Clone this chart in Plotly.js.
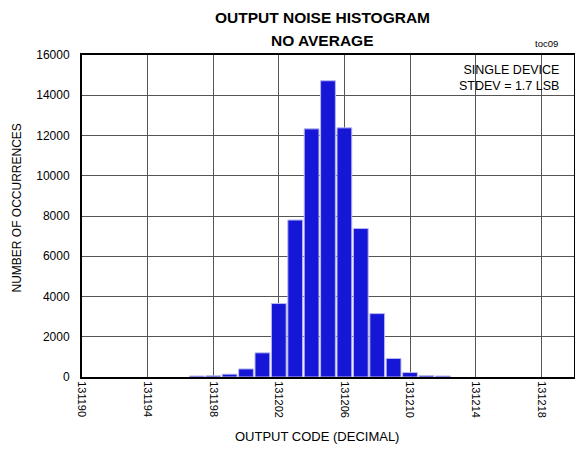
<!DOCTYPE html>
<html>
<head>
<meta charset="utf-8">
<script src="https://cdn.plot.ly/plotly-3.0.1.min.js"></script>
<style>html,body{margin:0;padding:0;background:#fff;}#chart{width:575px;height:449px;}</style>
</head>
<body>
<div id="chart"></div>
<script>
const codes = [131197,131198,131199,131200,131201,131202,131203,131204,131205,131206,131207,131208,131209,131210,131211,131212];
const counts = [50,60,140,400,1200,3650,7800,12330,14720,12380,7380,3150,920,220,70,50];
const xTickVals = [131190,131194,131198,131202,131206,131210,131214,131218];
const yTickVals = [0,2000,4000,6000,8000,10000,12000,14000,16000];

const FONT = '"Liberation Sans", Arial, sans-serif';

const L = 82, R = 1, T = 55, B = 72, W = 575, H = 449;
const pw = W - L - R, ph = H - T - B;
const px = x => (x - L) / pw;
const py = y => 1 - (y - T) / ph;

const trace = {
  type: 'bar',
  x: codes,
  y: counts,
  width: 0.9,
  marker: {color: '#1616d6', line: {color: '#b8b8f0', width: 1}},
  hoverinfo: 'x+y'
};

const layout = {
  width: W, height: H,
  margin: {l: L, r: R, t: T, b: B},
  paper_bgcolor: '#fff', plot_bgcolor: '#fff',
  showlegend: false,
  xaxis: {
    range: [131190, 131220],
    tickvals: xTickVals,
    ticktext: xTickVals.map(String),
    tickangle: 90,
    tickfont: {family: FONT, size: 11, color: '#000'},
    showgrid: true, gridcolor: '#555', gridwidth: 1,
    zeroline: false,
    showline: true, linecolor: '#000', linewidth: 2, mirror: true,
    ticks: '', fixedrange: true
  },
  yaxis: {
    range: [0, 16000],
    tickvals: yTickVals,
    ticktext: yTickVals.map(String),
    tickfont: {family: FONT, size: 12, color: '#000'},
    ticklabelstandoff: 8,
    showgrid: true, gridcolor: '#555', gridwidth: 1,
    zeroline: false,
    showline: true, linecolor: '#000', linewidth: 2, mirror: true,
    ticks: '', fixedrange: true
  },
  annotations: [
    {text: '<b>OUTPUT NOISE HISTOGRAM</b>', xref: 'paper', yref: 'paper', x: px(322), y: py(17),
     xanchor: 'center', yanchor: 'middle', showarrow: false, font: {family: FONT, size: 15.5, color: '#000'}},
    {text: '<b>NO AVERAGE</b>', xref: 'paper', yref: 'paper', x: px(322), y: py(40),
     xanchor: 'center', yanchor: 'middle', showarrow: false, font: {family: FONT, size: 15.5, color: '#000'}},
    {text: 'toc09', xref: 'paper', yref: 'paper', x: px(560), y: py(43.5),
     xanchor: 'right', yanchor: 'middle', showarrow: false, font: {family: FONT, size: 9.5, color: '#000'}},
    {text: 'SINGLE DEVICE<br>STDEV = 1.7 LSB', xref: 'paper', yref: 'paper', x: px(561), y: py(77.5),
     xanchor: 'right', yanchor: 'middle', align: 'right', showarrow: false, font: {family: FONT, size: 12.5, color: '#000'}},
    {text: 'OUTPUT CODE (DECIMAL)', xref: 'paper', yref: 'paper', x: px(317), y: py(436),
     xanchor: 'center', yanchor: 'middle', showarrow: false, font: {family: FONT, size: 13, color: '#000'}},
    {text: 'NUMBER OF OCCURRENCES', xref: 'paper', yref: 'paper', x: px(16.5), y: py(208),
     xanchor: 'center', yanchor: 'middle', textangle: -90, showarrow: false, font: {family: FONT, size: 12, color: '#000'}}
  ]
};

Plotly.newPlot('chart', [trace], layout, {displayModeBar: false, staticPlot: true});
</script>
</body>
</html>
